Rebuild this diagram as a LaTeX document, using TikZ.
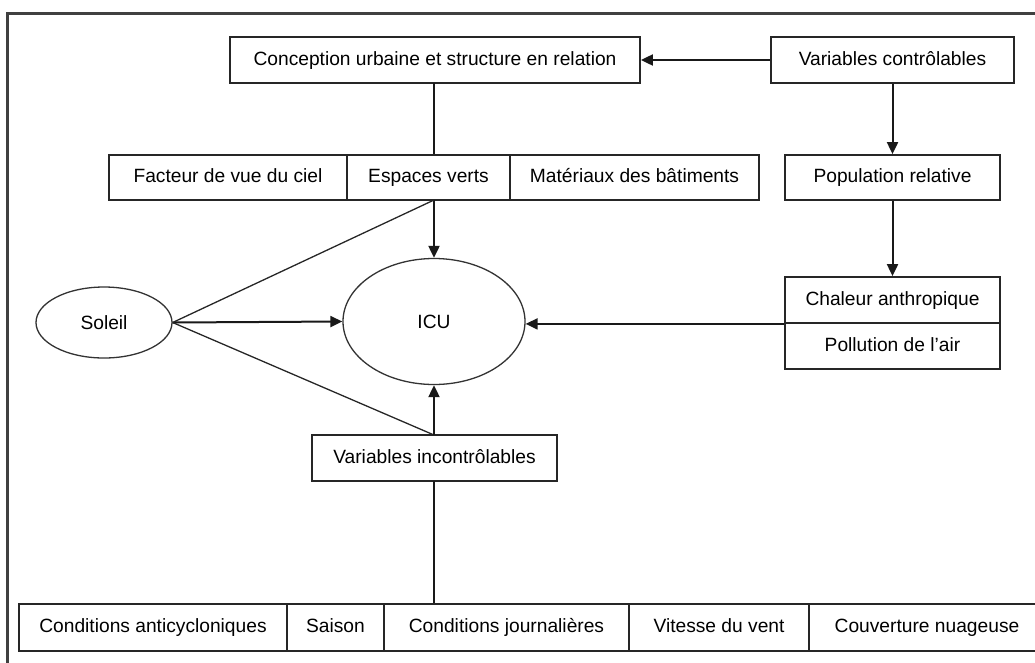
\documentclass[tikz,border=0pt]{standalone}
\usepackage{fontspec}
\setmainfont{Liberation Sans}
\usetikzlibrary{shapes.geometric,arrows.meta}
\begin{document}
\begin{tikzpicture}[x=1pt,y=-1pt,
  bx/.style={draw=black!85,line width=1.8pt,rectangle,inner sep=0pt,minimum height=46pt,
    text height=13.8pt,text depth=3.6pt,font=\fontsize{19.2}{22}\selectfont},
  el/.style={draw=black!80,line width=1.3pt,ellipse,inner sep=0pt,
    font=\fontsize{19.2}{22}\selectfont},
  arr/.style={line width=2pt,black!90,-{Triangle[length=12pt,width=11pt]}},
  ln/.style={line width=2pt,black!90},
  thin/.style={line width=1.3pt,black!85},
  frame/.style={line width=2.2pt,black!75}]
\clip (0,0) rectangle (1035,662);
\useasboundingbox (0,0) rectangle (1035,662);
% frame
\draw[frame] (7.5,700) -- (7.5,13.5) -- (1040,13.5);
% top row
\node[bx,minimum width=410pt] (conc) at (435,60) {Conception urbaine et structure en relation};
\node[bx,minimum width=243pt] (vc) at (892.5,60) {Variables contrôlables};
% second row
\node[bx,minimum width=238pt,minimum height=45pt] (fac) at (228,177.5) {Facteur de vue du ciel};
\node[bx,minimum width=163pt,minimum height=45pt] (esp) at (428.5,177.5) {Espaces verts};
\node[bx,minimum width=249pt,minimum height=45pt] (mat) at (634.5,177.5) {Matériaux des bâtiments};
\node[bx,minimum width=215pt,minimum height=45pt] (pop) at (892.5,177.5) {Population relative};
% right stack
\node[bx,minimum width=215pt] (chal) at (892.5,300) {Chaleur anthropique};
\node[bx,minimum width=215pt] (poll) at (892.5,346) {Pollution de l’air};
% ellipses
\node[el,minimum width=182pt,minimum height=126pt] (icu) at (434,321.5) {ICU};
\node[el,minimum width=136pt,minimum height=71pt] (sol) at (104,322.5) {Soleil};
% variables incontrolables
\node[bx,minimum width=245pt] (vi) at (434.5,458) {Variables incontrôlables};
% bottom row
\node[bx,minimum width=268pt,minimum height=47pt] (b1) at (153,627.5) {Conditions anticycloniques};
\node[bx,minimum width=97pt,minimum height=47pt] (b2) at (335.5,627.5) {Saison};
\node[bx,minimum width=245pt,minimum height=47pt] (b3) at (506.5,627.5) {Conditions journalières};
\node[bx,minimum width=180pt,minimum height=47pt] (b4) at (719,627.5) {Vitesse du vent};
\node[bx,minimum width=236pt,minimum height=47pt] (b5) at (927,627.5) {Couverture nuageuse};
% helper coordinates
\coordinate (ct) at (434,83);
\coordinate (ep) at (434,200);
\coordinate (vt) at (434,435);
\coordinate (vb) at (434,481);
% connectors
\draw[arr] (vc.west) -- (conc.east);
\draw[ln] (ct) -- (ct |- esp.north);
\draw[arr] (vc.south) -- (pop.north);
\draw[arr] (pop.south) -- (chal.north);
\draw[arr] (chal.south west) -- (chal.south west -| icu.east);
\draw[arr] (ep) -- (icu.north);
\draw[arr] (sol.east) -- (icu.west);
\draw[thin] (sol.east) -- (ep);
\draw[thin] (sol.east) -- (vt);
\draw[arr] (vt) -- (icu.south);
\draw[ln] (vb) -- (vb |- b3.north);
\end{tikzpicture}
\end{document}
